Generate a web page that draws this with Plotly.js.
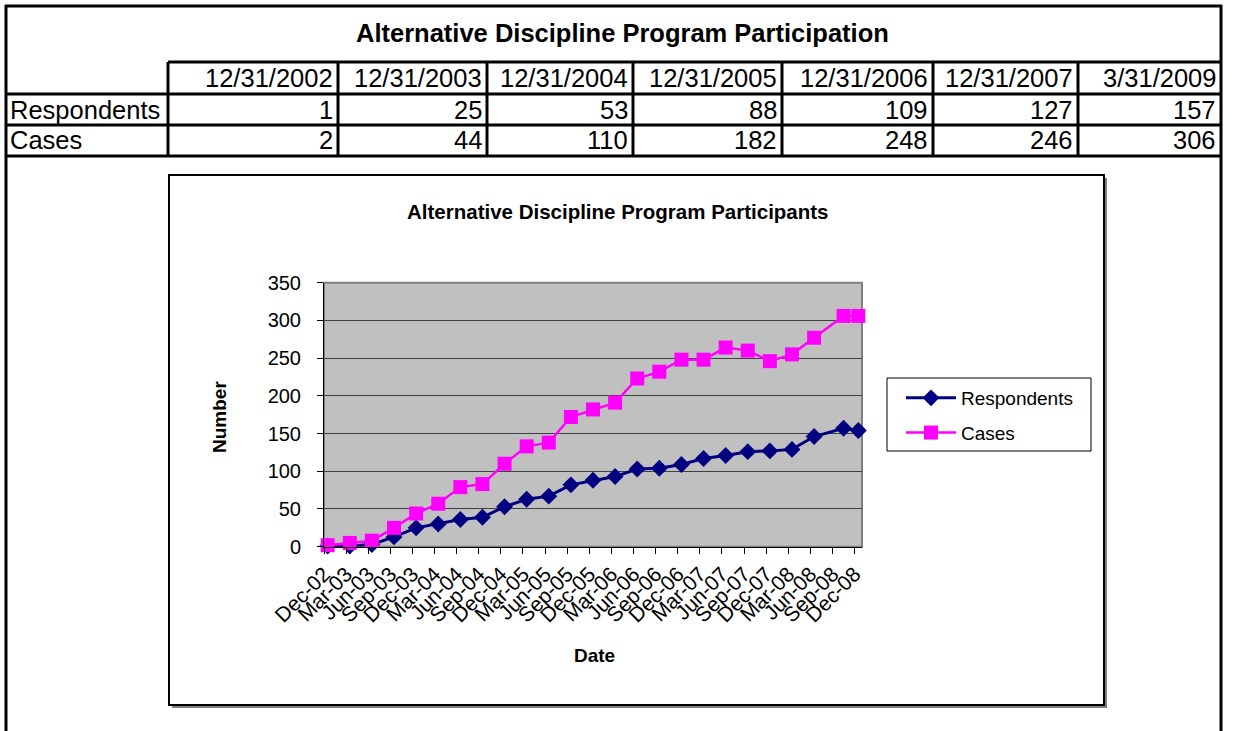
<!DOCTYPE html>
<html><head><meta charset="utf-8">
<script src="https://cdn.plot.ly/plotly-3.0.1.min.js"></script>
<style>html,body{margin:0;padding:0;background:#fff}#chart{width:1235px;height:731px}</style>
</head><body><div id="chart"></div>
<script>
// ---------- data ----------
const tableTitle = 'Alternative Discipline Program Participation';
const tableRowLabels = ['Respondents', 'Cases'];
const tableDates = ['12/31/2002','12/31/2003','12/31/2004','12/31/2005','12/31/2006','12/31/2007','3/31/2009'];
const tableRespondents = [1, 25, 53, 88, 109, 127, 157];
const tableCases = [2, 44, 110, 182, 248, 246, 306];

const chartTitle = 'Alternative Discipline Program Participants';
const yTitle = 'Number';
const xTitle = 'Date';
const pointMonths = ['2002-12','2003-03','2003-06','2003-09','2003-12','2004-03','2004-06','2004-09','2004-12',
  '2005-03','2005-06','2005-09','2005-12','2006-03','2006-06','2006-09','2006-12','2007-03','2007-06','2007-09',
  '2007-12','2008-03','2008-06','2008-10','2008-12'];
const respondents = [1, 1, 3, 13, 25, 30, 36, 39, 53, 63, 67, 82, 88, 93, 103, 104, 109, 117, 121, 126, 127, 129, 146, 157, 154];
const cases = [2, 5, 8, 25, 44, 57, 79, 83, 110, 133, 138, 172, 182, 191, 223, 232, 248, 248, 264, 260, 246, 255, 277, 306, 306];
const xTickLabels = ['Dec-02','Mar-03','Jun-03','Sep-03','Dec-03','Mar-04','Jun-04','Sep-04','Dec-04',
  'Mar-05','Jun-05','Sep-05','Dec-05','Mar-06','Jun-06','Sep-06','Dec-06','Mar-07','Jun-07','Sep-07',
  'Dec-07','Mar-08','Jun-08','Sep-08','Dec-08'];

// ---------- helpers ----------
const W = 1235, H = 731;
const X = p => p / W;
const Y = p => 1 - p / H;
// month slot index from Dec-2002, points centred in their month slot
const monthIndex = s => { const [y, m] = s.split('-').map(Number); return (y - 2002) * 12 + (m - 12); };
const xPts = pointMonths.map(s => monthIndex(s) + 0.5);
const tickVals = xTickLabels.map((_, i) => i * 3);

const FONT = '"Liberation Sans", Arial, sans-serif';

// table geometry (layout only)
const colEdges = [5, 168, 338, 487, 633, 782, 933, 1078, 1221];
const rowEdges = [62, 94, 125, 156];
const rowCenters = [78, 109.5, 140.5];

const shapes = [];
const line = (x0, y0, x1, y1, color, width) => shapes.push({type: 'line', xref: 'paper', yref: 'paper',
  x0: X(x0), y0: Y(y0), x1: X(x1), y1: Y(y1), line: {color: color, width: width}, layer: 'above'});

// outer frame
line(6, 5, 6, 735, '#000', 3);
line(5, 6, 1222, 6, '#000', 3);
line(1221, 5, 1221, 735, '#000', 3);
// table lines
line(168, rowEdges[0], 1222, rowEdges[0], '#000', 3);
for (let r = 1; r < rowEdges.length; r++) line(5, rowEdges[r], 1222, rowEdges[r], '#000', 3);
for (let c = 1; c < colEdges.length - 1; c++) line(colEdges[c], rowEdges[0], colEdges[c], rowEdges[3], '#000', 3);

// inner chart box with shadow
line(1106, 178, 1106, 708, '#808080', 2);
line(172, 707, 1106, 707, '#808080', 2);
shapes.push({type: 'rect', xref: 'paper', yref: 'paper', x0: X(169), x1: X(1104), y0: Y(705), y1: Y(175),
  line: {color: '#000', width: 2}, layer: 'below'});
// plot-area border
shapes.push({type: 'rect', xref: 'paper', yref: 'paper', x0: X(324), x1: X(862), y0: Y(546.7), y1: Y(282.7),
  line: {color: '#808080', width: 2}, layer: 'below'});
// legend box
shapes.push({type: 'rect', xref: 'paper', yref: 'paper', x0: X(887), x1: X(1091), y0: Y(451), y1: Y(378),
  line: {color: '#000', width: 1}, layer: 'below'});

const annotations = [];
const ann = (text, x, y, xanchor, size, extra) => annotations.push(Object.assign({
  text: text, xref: 'paper', yref: 'paper', x: X(x), y: Y(y), xanchor: xanchor, yanchor: 'middle',
  showarrow: false, font: {family: FONT, size: size, color: '#000'}}, extra || {}));

ann('<b>' + tableTitle + '</b>', 622, 33, 'center', 25.5);
tableDates.forEach((d, i) => ann(d, colEdges[i + 2] - 3, rowCenters[0], 'right', 25.5));
tableRowLabels.forEach((l, i) => ann(l, 8, rowCenters[i + 1], 'left', 25.5));
tableRespondents.forEach((v, i) => ann(String(v), colEdges[i + 2] - 3, rowCenters[1], 'right', 25.5));
tableCases.forEach((v, i) => ann(String(v), colEdges[i + 2] - 3, rowCenters[2], 'right', 25.5));

ann('<b>' + chartTitle + '</b>', 617.5, 211, 'center', 20.5);
ann('<b>' + yTitle + '</b>', 219, 417, 'center', 19, {textangle: -90});
ann('<b>' + xTitle + '</b>', 594, 655, 'center', 19);

const traces = [
  {x: xPts, y: respondents, name: 'Respondents', type: 'scatter', mode: 'lines+markers', cliponaxis: false,
   legendgroup: 'a', line: {color: '#000080', width: 3},
   marker: {symbol: 'diamond', size: 13, color: '#000080'}},
  {x: xPts, y: cases, name: 'Cases', type: 'scatter', mode: 'lines+markers', cliponaxis: false,
   legendgroup: 'b', line: {color: '#FF00FF', width: 2.5},
   marker: {symbol: 'square', size: 14, color: '#FF00FF'}}
];

const layout = {
  width: W, height: H, margin: {l: 0, r: 0, t: 0, b: 0},
  paper_bgcolor: '#fff', plot_bgcolor: '#C0C0C0',
  font: {family: FONT, color: '#000'},
  showlegend: true,
  legend: {x: X(901), y: Y(379), xanchor: 'left', yanchor: 'top', bgcolor: 'rgba(0,0,0,0)',
    borderwidth: 0, font: {family: FONT, size: 19, color: '#000'}, itemwidth: 50, tracegroupgap: 7},
  xaxis: {domain: [X(324), X(862)], range: [0, 73], tickmode: 'array', tickvals: tickVals, ticktext: xTickLabels,
    tickangle: -45, ticks: 'outside', ticklen: 6, tickcolor: '#000', showline: true, linecolor: '#000', linewidth: 1,
    showgrid: false, zeroline: false, automargin: false, fixedrange: true,
    tickfont: {family: FONT, size: 21, color: '#000'}},
  yaxis: {domain: [Y(546.7), Y(282.7)], range: [0, 350], dtick: 50, tick0: 0, ticks: 'outside', ticklen: 6,
    tickcolor: '#000', showline: true, linecolor: '#000', linewidth: 1, showgrid: true, gridcolor: '#404040',
    gridwidth: 1, zeroline: false, automargin: false, fixedrange: true, ticklabelstandoff: 12,
    tickfont: {family: FONT, size: 20, color: '#000'}},
  shapes: shapes, annotations: annotations
};

Plotly.newPlot('chart', traces, layout, {displayModeBar: false, staticPlot: true});
</script>
</body></html>
